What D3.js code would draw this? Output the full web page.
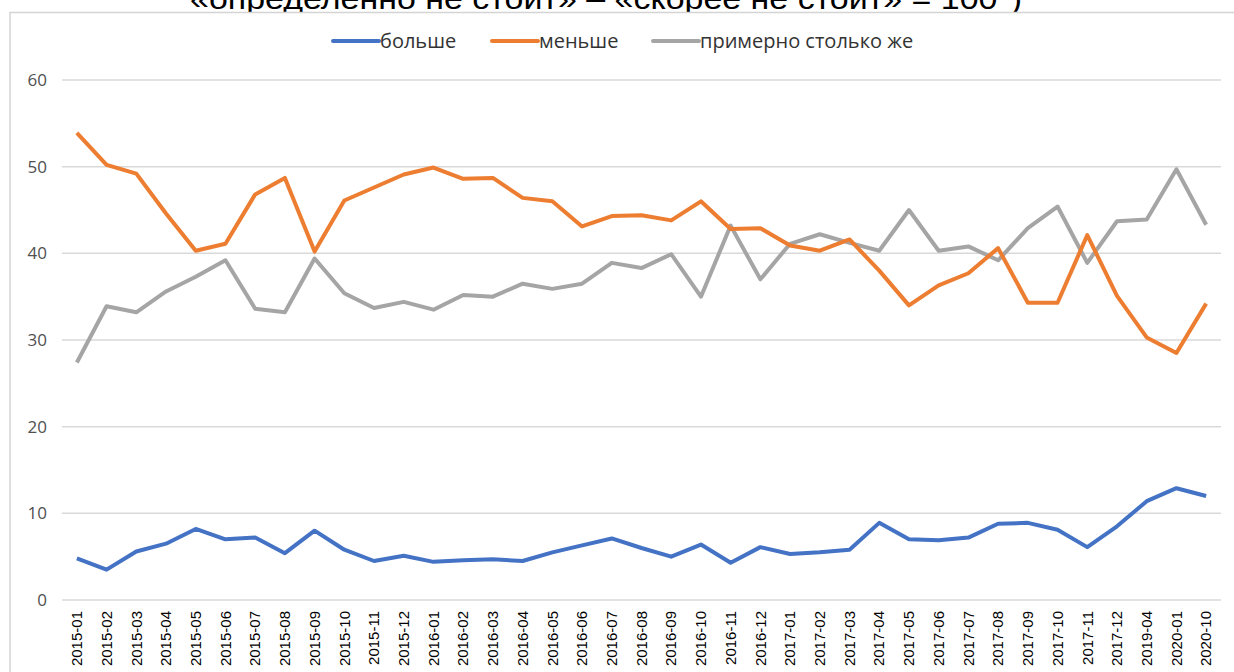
<!DOCTYPE html>
<html>

<head>
  <meta charset="UTF-8">
  <title>Опрос</title>
  <script src="https://d3js.org/d3.v7.min.js"></script>
  <style>
    body { margin: 0; background: white; }
    svg { display: block; }
  </style>
</head>

<body>
  <svg></svg>
</body>

<script>
  let width = 1234,
    height = 672;

  // data
  const months = ["2015-01", "2015-02", "2015-03", "2015-04", "2015-05", "2015-06", "2015-07", "2015-08",
    "2015-09", "2015-10", "2015-11", "2015-12", "2016-01", "2016-02", "2016-03", "2016-04", "2016-05",
    "2016-06", "2016-07", "2016-08", "2016-09", "2016-10", "2016-11", "2016-12", "2017-01", "2017-02",
    "2017-03", "2017-04", "2017-05", "2017-06", "2017-07", "2017-08", "2017-09", "2017-10", "2017-11",
    "2017-12", "2019-04", "2020-01", "2020-10"];

  const more = [4.8, 3.5, 5.6, 6.5, 8.2, 7.0, 7.2, 5.4, 8.0, 5.8, 4.5, 5.1, 4.4, 4.6, 4.7, 4.5, 5.5,
    6.3, 7.1, 6.0, 5.0, 6.4, 4.3, 6.1, 5.3, 5.5, 5.8, 8.9, 7.0, 6.9, 7.2, 8.8, 8.9, 8.1, 6.1,
    8.5, 11.4, 12.9, 12.0];

  const less = [53.9, 50.2, 49.2, 44.6, 40.3, 41.1, 46.8, 48.7, 40.2, 46.1, 47.6, 49.1, 49.9, 48.6,
    48.7, 46.4, 46.0, 43.1, 44.3, 44.4, 43.8, 46.0, 42.8, 42.9, 40.9, 40.3, 41.6, 38.0, 34.0, 36.3,
    37.7, 40.6, 34.3, 34.3, 42.1, 35.1, 30.3, 28.5, 34.2];

  const same = [27.4, 33.9, 33.2, 35.6, 37.3, 39.2, 33.6, 33.2, 39.4, 35.4, 33.7, 34.4, 33.5, 35.2,
    35.0, 36.5, 35.9, 36.5, 38.9, 38.3, 39.9, 35.0, 43.2, 37.0, 41.1, 42.2, 41.2, 40.3, 45.0, 40.3,
    40.8, 39.2, 42.9, 45.4, 38.9, 43.7, 43.9, 49.7, 43.3];

  const seriesNames = ["больше", "меньше", "примерно столько же"];
  const seriesColors = ["#4472C4", "#ED7D31", "#A5A5A5"];
  const yTicks = [0, 10, 20, 30, 40, 50, 60];
  const headText = "«определенно не стоит» – «скорее не стоит» = 100*)";

  let svg = d3.select("svg")
    .attr("width", width)
    .attr("height", height);

  // heading above the chart, cut by the page top as in the source
  svg.append("text")
    .attr("x", 606)
    .attr("y", 9)
    .attr("text-anchor", "middle")
    .attr("textLength", 832)
    .attr("lengthAdjust", "spacingAndGlyphs")
    .style("font-family", "Liberation Sans, Arial, sans-serif")
    .style("font-size", "30px")
    .style("fill", "#000")
    .text(headText);

  // chart frame
  svg.append("rect")
    .attr("x", 10).attr("y", 12.5)
    .attr("width", 1240).attr("height", 680)
    .attr("fill", "white")
    .attr("stroke", "#d4d4d4")
    .attr("stroke-width", 1.5);

  let x = d3.scaleBand()
    .domain(months)
    .range([62, 1221]);

  let y = d3.scaleLinear()
    .domain([0, 60])
    .range([600, 80]);

  // grid
  svg.append("g")
    .selectAll("line")
    .data(yTicks)
    .enter()
    .append("line")
    .attr("x1", 62).attr("x2", 1221)
    .attr("y1", d => y(d)).attr("y2", d => y(d))
    .attr("stroke", "#d9d9d9")
    .attr("stroke-width", 1.5);

  // y labels
  let yAxis = svg.append("g")
    .attr("transform", "translate(47,0)")
    .call(d3.axisLeft(y).tickValues(yTicks).tickSize(0).tickPadding(0));
  yAxis.select(".domain").remove();
  yAxis.selectAll("text")
    .style("font-family", "Open Sans, sans-serif")
    .style("font-size", "17px")
    .style("fill", "#505050");

  // x labels
  let xAxis = svg.append("g")
    .attr("transform", "translate(0,600)")
    .call(d3.axisBottom(x).tickSize(0).tickPadding(0));
  xAxis.select(".domain").remove();
  xAxis.selectAll("text")
    .attr("transform", "rotate(-90)")
    .attr("text-anchor", "end")
    .attr("x", -11)
    .attr("y", 0)
    .attr("dy", "0.35em")
    .style("font-family", "Liberation Sans, Arial, sans-serif")
    .style("font-size", "15px")
    .style("fill", "#000");

  let line = d3.line()
    .x((d, i) => x(months[i]) + x.bandwidth() / 2)
    .y(d => y(d));

  let series = [more, less, same];
  // gray first so orange and blue sit over it
  [2, 1, 0].forEach(k => {
    svg.append("path")
      .datum(series[k])
      .attr("fill", "none")
      .attr("stroke", seriesColors[k])
      .attr("stroke-width", 4)
      .attr("stroke-linejoin", "round")
      .attr("d", line);
  });

  // legend
  const legendX = [333, 492, 653];
  let legend = svg.append("g")
    .selectAll("g")
    .data(seriesNames)
    .enter()
    .append("g")
    .attr("transform", (d, i) => "translate(" + legendX[i] + ",41)");

  legend.append("line")
    .attr("x1", 0).attr("x2", 46)
    .attr("stroke", (d, i) => seriesColors[i])
    .attr("stroke-width", 4)
    .attr("stroke-linecap", "round");

  legend.append("text")
    .attr("x", 47)
    .attr("dy", "0.35em")
    .style("font-family", "Open Sans, sans-serif")
    .style("font-size", "20px")
    .style("fill", "#333")
    .text(d => d);
</script>
</html>
